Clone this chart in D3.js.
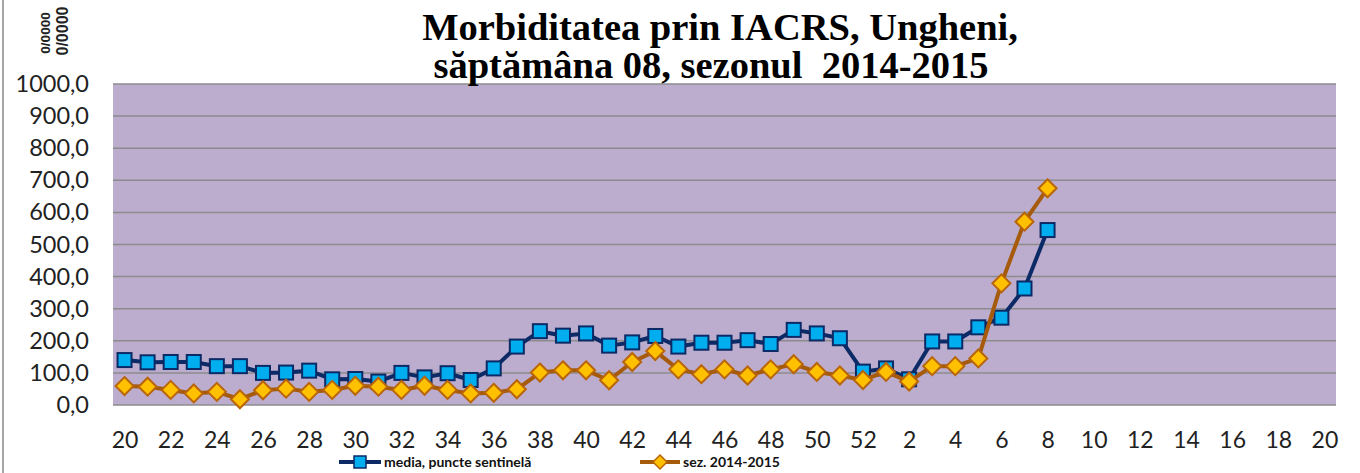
<!DOCTYPE html>
<html>
<head>
<meta charset="utf-8">
<script src="https://cdn.jsdelivr.net/npm/d3@7"></script>
<style>
  body { margin: 0; background: #fff; }
  svg { display: block; }
</style>
</head>
<body>
<svg id="chart" width="1360" height="473"></svg>
<script>
// weeks of the season: 20..52, then 1..20
const weeks = d3.range(20, 53).concat(d3.range(1, 21));

// media, puncte sentinela (weeks 20..52, 1..8)
const media = [140,133,134,134,121,121,100,101,107,80,
               81,73,100,86,99,78,114,182,230,216,
               223,185,195,215,182,194,194,202,190,234,
               223,208,104,
               114,80,198,198,242,272,363,545];

// sez. 2014-2015
const sezon = [59,57,47,36,41,18,46,51,41,47,
               60,57,47,60,47,36,38,49,101,108,
               108,77,134,168,111,96,111,92,111,127,
               103,92,78,
               103,73,121,121,145,379,571,675];

const yTicks = [0,100,200,300,400,500,600,700,800,900,1000];

const svg = d3.select("#chart");
const plotL = 113, plotR = 1336, plotT = 84, plotB = 405;

const x = d3.scalePoint().domain(d3.range(weeks.length)).range([plotL, plotR]).padding(0.5);
const y = d3.scaleLinear().domain([0, 1000]).range([plotB, plotT]);

// outer frame line on the left
svg.append("line").attr("x1", 3).attr("x2", 3).attr("y1", 0).attr("y2", 473)
    .attr("stroke", "#a6a6a6").attr("stroke-width", 2);

// plot area
svg.append("rect").attr("x", plotL).attr("y", plotT)
    .attr("width", plotR - plotL).attr("height", plotB - plotT)
    .attr("fill", "#bcaccd");

// gridlines
svg.append("g").selectAll("line").data(yTicks).join("line")
    .attr("x1", plotL).attr("x2", plotR)
    .attr("y1", d => y(d)).attr("y2", d => y(d))
    .attr("stroke", "#8c8c8c").attr("stroke-width", 1.5);

// y axis labels
const fmt = d => d3.format(".1f")(d).replace(".", ",");
const yAxis = svg.append("g").attr("transform", `translate(${plotL - 24},0)`)
    .call(d3.axisLeft(y).tickValues(yTicks).tickFormat(fmt).tickSize(0).tickPadding(0));
yAxis.select(".domain").remove();
yAxis.selectAll("text").attr("font-family", "Lato, sans-serif").attr("font-size", 23.5)
    .attr("fill", "#222");

// x axis labels
const xAxis = svg.append("g").attr("transform", `translate(0,${plotB + 27})`)
    .call(d3.axisBottom(x)
        .tickValues(d3.range(weeks.length).filter(i => weeks[i] % 2 === 0))
        .tickFormat(i => weeks[i]).tickSize(0).tickPadding(0));
xAxis.select(".domain").remove();
xAxis.selectAll("text").attr("font-family", "Lato, sans-serif").attr("font-size", 23)
    .attr("fill", "#222");

const line = d3.line().x((d, i) => x(i)).y(d => y(d));

// media series
svg.append("path").datum(media).attr("d", line)
    .attr("fill", "none").attr("stroke", "#0b2a66").attr("stroke-width", 4)
    .attr("stroke-linejoin", "round");
svg.append("g").selectAll("rect").data(media).join("rect")
    .attr("x", (d, i) => x(i) - 7).attr("y", d => y(d) - 7)
    .attr("width", 14).attr("height", 14)
    .attr("fill", "#00aeef").attr("stroke", "#0b2a66").attr("stroke-width", 2);

// season series
svg.append("path").datum(sezon).attr("d", line)
    .attr("fill", "none").attr("stroke", "#a65a0c").attr("stroke-width", 4)
    .attr("stroke-linejoin", "round");
const diamond = "M0,-9L9,0L0,9L-9,0Z";
svg.append("g").selectAll("path").data(sezon).join("path")
    .attr("d", diamond)
    .attr("transform", (d, i) => `translate(${x(i)},${y(d)})`)
    .attr("fill", "#ffc000").attr("stroke", "#b8650a").attr("stroke-width", 2);

// title
const title = svg.append("g").attr("font-family", "'Liberation Serif', 'Times New Roman', serif")
    .attr("font-weight", "bold").attr("font-size", 38.5).attr("fill", "#000")
    .attr("text-anchor", "middle");
title.append("text").attr("x", 720).attr("y", 40).text("Morbiditatea prin IACRS, Ungheni,");
title.append("text").attr("x", 711).attr("y", 78).text("săptămâna 08, sezonul\u00a0 2014-2015");

// unit label (rotated)
const unit = svg.append("g").attr("font-family", "'Liberation Sans', Arial, sans-serif")
    .attr("font-weight", "bold").attr("text-anchor", "middle").attr("fill", "#222");
unit.append("text").attr("transform", "translate(50,33) rotate(-90)")
    .attr("font-size", 13.5).text("0/0000");
unit.append("text").attr("transform", "translate(68,31) rotate(-90)")
    .attr("font-size", 16).text("0/0000");

// legend
const leg = svg.append("g").attr("font-family", "Lato, sans-serif")
    .attr("font-weight", "bold").attr("font-size", 14).attr("fill", "#111");
leg.append("line").attr("x1", 339).attr("x2", 381).attr("y1", 462).attr("y2", 462)
    .attr("stroke", "#0b2a66").attr("stroke-width", 4);
leg.append("rect").attr("x", 354).attr("y", 456).attr("width", 12).attr("height", 12)
    .attr("fill", "#00aeef").attr("stroke", "#0b2a66").attr("stroke-width", 1.5);
leg.append("text").attr("x", 384).attr("y", 467).text("media, puncte sentinelă");

leg.append("line").attr("x1", 640).attr("x2", 680).attr("y1", 462).attr("y2", 462)
    .attr("stroke", "#a65a0c").attr("stroke-width", 4);
leg.append("path").attr("d", "M0,-7L7,0L0,7L-7,0Z").attr("transform", "translate(660,462)")
    .attr("fill", "#ffc000").attr("stroke", "#b8650a").attr("stroke-width", 1.5);
leg.append("text").attr("x", 683).attr("y", 467).text("sez. 2014-2015");
</script>
</body>
</html>
